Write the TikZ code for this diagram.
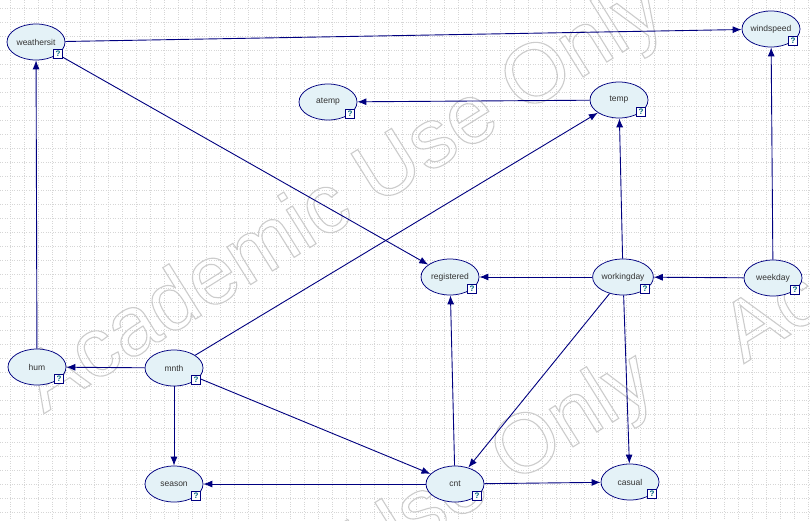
\documentclass[tikz,border=0pt]{standalone}
\usepackage{fontspec}
\setmainfont{Liberation Sans}
\usetikzlibrary{arrows.meta,shapes.geometric}

% outlined text for the watermark
\newcommand\outlinetext[1]{\special{pdf:literal direct 1 Tr 1.1 w}#1\special{pdf:literal direct 0 Tr}}

\begin{document}
\begin{tikzpicture}[x=1pt,y=-1pt,
  var/.style={ellipse,draw=edge,fill=nodefill,line width=0.75pt,
    minimum width=58pt,minimum height=36pt,inner sep=0pt,
    font=\fontsize{8.5}{10}\selectfont,text=black!80},
  qmark/.style={rectangle,draw=edge,fill=white,line width=0.6pt,
    minimum size=9pt,inner sep=0pt,font=\fontsize{8}{8}\selectfont\bfseries,text=qtext},
  link/.style={draw=edge,line width=0.9pt,-{Latex[length=9pt,width=7pt]}},
  gridline/.style={draw=gray!32,dotted,line width=0.4pt},
  watermark/.style={rotate=32,inner sep=0pt,text=gray!40,font=\fontsize{84}{84}\selectfont}]
% Define scheme colours
\definecolor{edge}{HTML}{000080}
\definecolor{nodefill}{HTML}{E4F2F7}
\definecolor{qtext}{HTML}{006680}

\useasboundingbox (0,0) rectangle (810,520);
\clip (0,0) rectangle (810,520);
\fill[white] (0,0) rectangle (810,520);

% Background grid
\foreach \gx in {10,24,...,810} \draw[gridline] (\gx,0) -- (\gx,520);
\foreach \gy in {8,22,...,520} \draw[gridline] (0,\gy) -- (810,\gy);

% Watermark
\node[watermark] (wm1) at (345,200) {\outlinetext{Academic Use Only}};
\node[watermark] (wm2) at (335,570) {\outlinetext{Academic Use Only}};
\node[watermark] (wm3) at (1045,150) {\outlinetext{Academic Use Only}};

% Variables
\node[var] (weathersit) at (36,42) {weathersit};
\node[var] (windspeed) at (771,29) {windspeed};
\node[var] (atemp) at (328,102) {atemp};
\node[var] (temp) at (619,100) {temp};
\node[var] (registered) at (450,277) {registered};
\node[var] (workingday) at (623,277) {workingday};
\node[var] (weekday) at (773,278) {weekday};
\node[var] (hum) at (37,367) {hum};
\node[var] (mnth) at (174,368) {mnth};
\node[var] (season) at (174,484) {season};
\node[var] (cnt) at (455,484) {cnt};
\node[var] (casual) at (630,482) {casual};

% Arcs
\path[link] (weathersit) -- (windspeed);
\path[link] (weathersit) -- (registered);
\path[link] (hum) -- (weathersit);
\path[link] (mnth) -- (hum);
\path[link] (mnth) -- (temp);
\path[link] (mnth) -- (season);
\path[link] (mnth) -- (cnt);
\path[link] (temp) -- (atemp);
\path[link] (workingday) -- (temp);
\path[link] (workingday) -- (registered);
\path[link] (workingday) -- (cnt);
\path[link] (workingday) -- (casual);
\path[link] (weekday) -- (workingday);
\path[link] (weekday) -- (windspeed);
\path[link] (cnt) -- (registered);
\path[link] (cnt) -- (season);
\path[link] (cnt) -- (casual);

% Question mark boxes
\foreach \v in {weathersit,windspeed,atemp,temp,registered,workingday,
  weekday,hum,mnth,season,cnt,casual}
  \node[qmark] (\v-q) at ([shift={(22,12)}]\v.center) {?};
\end{tikzpicture}
\end{document}
